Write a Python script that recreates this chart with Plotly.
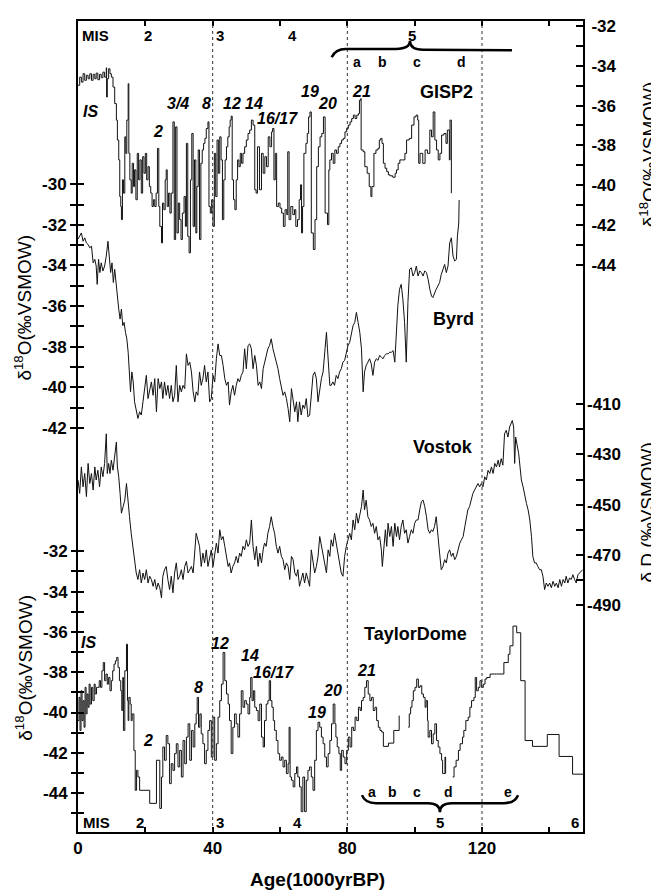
import plotly.graph_objects as go

# ---- data: (age ka BP, value) ----
# GISP2 d18O, permil VSMOW (right upper axis)
gisp2 = [
    (0.0, -34.98), (0.5, -34.57), (1.0, -34.82), (1.5, -34.40), (2.0, -34.73), (2.5, -34.48),
    (3.0, -34.65), (3.5, -34.40), (4.0, -34.73), (4.5, -34.43), (5.0, -34.65), (5.4, -34.37),
    (5.9, -34.70), (6.4, -34.43), (6.9, -34.60), (7.4, -34.32), (7.9, -34.57), (8.4, -34.10),
    (8.5, -35.57), (8.7, -34.65), (9.1, -34.15), (9.5, -34.40), (9.9, -34.57), (10.4, -35.07),
    (10.9, -35.90), (11.4, -36.73), (11.7, -37.73), (12.1, -38.73), (12.4, -40.57), (12.7, -41.07),
    (12.9, -41.73), (13.2, -39.73), (13.5, -40.40), (13.9, -37.57), (14.2, -38.40), (14.5, -36.73),
    (14.9, -34.90), (15.1, -38.40), (15.4, -39.73), (15.8, -40.40), (16.1, -38.90), (16.5, -40.07),
    (16.8, -39.23), (17.2, -40.73), (17.6, -38.40), (18.0, -39.73), (18.4, -38.73), (18.8, -40.40),
    (19.2, -38.57), (19.6, -39.40), (20.0, -38.40), (20.4, -39.73), (20.8, -39.07), (21.2, -40.07),
    (21.6, -40.40), (22.0, -41.07), (22.4, -40.73), (22.8, -41.07), (23.2, -40.40), (23.6, -38.15),
    (24.0, -41.07), (24.3, -42.07), (24.8, -42.90), (25.1, -40.90), (25.5, -41.23), (25.9, -39.73),
    (26.2, -39.23), (26.5, -41.07), (26.9, -40.40), (27.3, -41.40), (27.7, -40.40), (28.2, -36.82),
    (28.6, -42.73), (29.0, -37.07), (29.4, -42.40), (29.8, -40.90), (30.2, -41.73), (30.6, -42.73),
    (31.0, -41.40), (31.5, -40.57), (31.9, -42.07), (32.2, -37.90), (32.6, -42.57), (33.0, -43.40),
    (33.4, -39.73), (33.8, -37.40), (34.2, -42.07), (34.6, -38.73), (35.0, -42.40), (35.3, -40.07),
    (35.7, -38.23), (36.1, -42.73), (36.5, -38.90), (36.9, -38.23), (37.3, -37.90), (37.7, -37.65),
    (38.1, -37.15), (38.6, -36.82), (38.9, -41.07), (39.3, -41.40), (39.7, -40.73), (40.1, -42.07),
    (40.5, -38.40), (40.9, -40.57), (41.3, -37.73), (41.7, -39.40), (42.1, -37.57), (42.5, -38.73),
    (42.9, -41.73), (43.3, -39.73), (43.7, -38.73), (44.1, -38.07), (44.5, -37.57), (44.9, -37.07),
    (45.2, -36.73), (45.5, -36.53), (45.8, -39.73), (46.2, -40.73), (46.6, -41.23), (47.0, -39.73),
    (47.4, -38.73), (47.8, -39.07), (48.2, -38.40), (48.6, -38.90), (49.0, -38.40), (49.5, -38.07),
    (50.0, -37.73), (50.5, -37.40), (51.0, -37.23), (51.5, -36.73), (52.0, -36.98), (52.5, -40.23),
    (52.9, -40.40), (53.3, -38.07), (53.9, -40.23), (54.5, -38.40), (55.0, -39.40), (55.5, -38.57),
    (56.0, -39.07), (56.5, -37.57), (57.0, -38.07), (57.5, -37.32), (57.8, -37.15), (58.2, -39.73),
    (58.6, -38.40), (59.0, -41.07), (59.5, -40.90), (60.0, -41.15), (60.5, -41.40), (61.0, -42.07),
    (61.5, -41.23), (62.0, -41.48), (62.3, -38.32), (62.7, -41.73), (63.2, -41.07), (63.8, -41.48),
    (64.3, -41.23), (64.7, -42.07), (65.2, -41.73), (65.7, -40.73), (66.1, -39.98), (66.4, -42.40),
    (66.7, -41.07), (67.1, -38.40), (67.7, -37.90), (68.1, -37.40), (68.5, -36.57), (68.9, -36.32),
    (69.3, -42.40), (69.9, -43.23), (70.4, -41.73), (70.9, -39.07), (71.4, -38.07), (71.9, -37.57),
    (72.4, -37.40), (72.9, -36.57), (73.4, -41.40), (74.1, -41.98), (74.5, -39.23), (74.8, -38.73),
    (75.3, -38.40), (75.8, -38.90), (76.3, -38.23), (76.8, -38.40), (77.3, -38.07), (77.8, -37.90),
    (78.3, -37.73), (78.8, -37.65), (79.3, -37.32), (79.8, -37.15), (80.3, -36.98), (80.8, -36.82),
    (81.3, -36.65), (81.8, -36.48), (82.3, -36.65), (82.8, -36.48), (83.3, -36.40), (83.6, -35.73),
    (84.0, -35.65), (84.1, -38.23), (84.7, -38.32), (85.2, -39.07), (85.9, -39.40), (86.5, -40.07),
    (87.0, -40.57), (87.3, -40.07), (87.9, -38.40), (88.5, -38.23), (89.1, -38.15), (89.5, -37.73),
    (89.9, -37.65), (90.3, -37.90), (90.7, -38.90), (91.2, -39.15), (91.7, -39.32), (92.2, -39.48),
    (92.7, -39.53), (93.5, -39.60), (94.2, -39.40), (94.6, -39.23), (95.1, -38.90), (95.6, -38.73),
    (96.4, -38.73), (97.1, -38.40), (97.6, -37.73), (98.4, -37.65), (99.1, -36.98), (99.8, -36.57),
    (100.4, -36.48), (100.9, -36.73), (101.2, -38.90), (101.6, -38.40), (102.4, -38.90), (103.1, -38.23),
    (103.8, -38.40), (104.5, -37.23), (105.0, -37.57), (105.5, -36.32), (106.0, -37.73), (106.5, -38.23),
    (107.0, -38.73), (107.5, -38.40), (108.0, -37.48), (108.7, -37.40), (109.3, -37.90), (109.7, -37.23),
    (110.3, -38.73), (110.5, -36.73), (110.9, -40.40),
]

# Byrd d18O, permil VSMOW (left upper axis)
byrd = [
    (0.0, -32.70), (0.5, -32.56), (1.0, -32.40), (1.5, -32.81), (2.0, -32.64), (2.5, -32.89),
    (3.0, -32.97), (3.5, -33.13), (4.0, -33.05), (4.5, -33.87), (5.0, -33.70), (5.4, -34.03),
    (5.7, -34.93), (6.1, -33.70), (6.5, -34.35), (6.9, -33.87), (7.4, -34.27), (7.9, -34.03),
    (8.4, -33.54), (8.9, -32.81), (9.3, -33.54), (9.7, -34.35), (10.1, -33.87), (10.5, -34.84),
    (10.9, -34.19), (11.4, -35.17), (11.7, -35.66), (12.1, -36.15), (12.5, -36.64), (12.9, -36.15),
    (13.3, -36.96), (13.7, -36.80), (14.1, -37.29), (14.5, -37.61), (14.9, -38.27), (15.2, -39.08),
    (15.6, -40.22), (16.0, -39.24), (16.4, -39.73), (16.8, -40.71), (17.3, -41.20), (17.8, -41.53),
    (18.3, -41.20), (18.8, -41.36), (19.3, -40.71), (19.8, -39.90), (20.3, -39.41), (20.8, -40.55),
    (21.3, -40.06), (21.8, -39.73), (22.3, -40.39), (22.8, -39.57), (23.3, -41.20), (23.8, -39.57),
    (24.3, -40.06), (24.8, -39.73), (25.2, -40.55), (25.7, -39.73), (26.2, -40.39), (26.7, -39.90),
    (27.2, -40.55), (27.7, -39.90), (28.2, -40.71), (28.7, -40.39), (29.2, -38.92), (29.7, -40.71),
    (30.2, -39.90), (30.7, -40.22), (31.2, -39.90), (31.7, -40.06), (32.2, -38.35), (32.7, -38.92),
    (33.2, -38.76), (33.7, -39.24), (34.2, -40.22), (34.7, -40.71), (35.1, -40.22), (35.6, -40.39),
    (36.1, -39.24), (36.6, -39.90), (37.1, -39.57), (37.6, -38.92), (38.1, -39.73), (38.6, -39.24),
    (39.1, -40.71), (39.6, -40.55), (40.1, -39.41), (40.6, -39.73), (41.1, -38.59), (41.6, -37.86),
    (42.1, -38.43), (42.6, -38.43), (43.1, -38.92), (43.6, -39.57), (44.1, -39.90), (44.6, -39.73),
    (45.0, -40.87), (45.5, -40.22), (46.0, -39.90), (46.5, -40.39), (47.0, -39.90), (47.5, -39.57),
    (48.0, -39.73), (48.5, -39.41), (49.0, -39.24), (49.5, -38.10), (50.0, -39.08), (50.5, -37.94),
    (51.0, -37.86), (51.5, -38.10), (52.0, -39.08), (52.5, -38.43), (53.0, -38.92), (53.5, -39.90),
    (54.0, -39.73), (54.5, -40.06), (55.0, -39.08), (55.4, -38.76), (55.9, -38.43), (56.4, -38.10),
    (56.9, -37.94), (57.4, -37.61), (57.9, -38.10), (58.4, -38.43), (58.9, -38.76), (59.4, -39.08),
    (59.9, -39.57), (60.4, -40.06), (60.9, -40.39), (61.4, -40.22), (61.9, -40.55), (62.4, -41.04),
    (62.9, -41.69), (63.4, -40.06), (63.9, -40.71), (64.4, -41.20), (64.9, -40.71), (65.3, -41.69),
    (65.8, -40.71), (66.3, -41.36), (66.8, -40.87), (67.3, -41.04), (67.8, -40.55), (68.3, -41.45),
    (68.8, -41.36), (69.3, -40.22), (69.8, -39.41), (70.3, -39.24), (70.8, -39.57), (71.3, -40.71),
    (71.8, -40.06), (72.3, -39.57), (72.8, -39.24), (73.3, -38.27), (73.8, -37.29), (74.1, -38.10),
    (74.5, -39.24), (74.8, -39.90), (75.2, -39.90), (75.7, -39.73), (76.2, -39.90), (76.7, -39.41),
    (77.2, -39.57), (77.7, -39.24), (78.2, -39.08), (78.7, -38.76), (79.2, -38.67), (79.7, -38.27),
    (80.2, -37.94), (80.7, -37.78), (81.2, -37.29), (81.7, -36.96), (82.2, -36.80), (82.7, -36.31),
    (83.2, -36.80), (83.7, -37.29), (84.2, -38.10), (84.7, -40.22), (85.1, -39.24), (85.6, -38.92),
    (86.1, -38.76), (86.6, -38.59), (87.1, -38.84), (87.6, -39.41), (88.1, -38.76), (88.6, -38.59),
    (89.1, -38.67), (89.6, -38.43), (90.1, -38.51), (90.6, -38.59), (91.1, -38.43), (91.6, -38.35),
    (92.1, -38.35), (92.6, -38.27), (93.1, -38.27), (93.6, -38.19), (94.1, -38.76), (94.6, -36.80),
    (95.0, -35.98), (95.5, -35.17), (96.0, -34.93), (96.5, -35.66), (97.0, -36.80), (97.5, -38.76),
    (98.0, -35.82), (98.5, -34.19), (99.0, -34.11), (99.5, -34.52), (100.0, -34.35), (100.5, -34.03),
    (101.0, -34.52), (101.5, -34.27), (102.0, -34.35), (102.5, -34.52), (103.0, -34.27), (103.5, -34.35),
    (104.0, -34.68), (104.5, -35.17), (105.0, -35.50), (105.4, -35.58), (105.9, -35.33), (106.4, -35.17),
    (106.9, -35.01), (107.4, -34.84), (107.9, -34.44), (108.4, -34.19), (108.9, -33.95), (109.4, -34.35),
    (109.9, -34.03), (110.4, -32.89), (110.9, -32.64), (111.4, -33.54), (111.9, -33.78), (112.4, -33.70),
    (112.7, -32.56), (113.1, -31.91), (113.2, -30.78),
]

# Vostok dD, permil VSMOW (right lower axis)
vostok = [
    (0.0, -440.2), (0.5, -445.5), (1.0, -435.0), (1.5, -442.9), (2.0, -437.6), (2.5, -446.8),
    (3.0, -433.6), (3.5, -441.6), (4.0, -437.6), (4.5, -444.2), (5.0, -435.0), (5.4, -440.2),
    (5.9, -436.3), (6.4, -442.9), (6.9, -435.0), (7.4, -438.9), (7.9, -433.6), (8.4, -421.8),
    (8.7, -437.6), (9.1, -433.6), (9.5, -437.6), (9.9, -432.3), (10.4, -436.3), (10.9, -431.0),
    (11.4, -425.1), (11.7, -435.0), (12.1, -438.9), (12.5, -445.5), (12.9, -453.4), (13.4, -450.8),
    (13.9, -448.2), (14.4, -441.6), (14.9, -450.8), (15.3, -454.8), (15.8, -461.4), (16.3, -466.6),
    (16.8, -473.2), (17.3, -477.2), (17.8, -479.8), (18.3, -475.9), (18.8, -481.2), (19.3, -477.2),
    (19.8, -479.8), (20.3, -475.9), (20.8, -481.2), (21.3, -478.5), (21.8, -479.8), (22.3, -482.5),
    (22.8, -479.8), (23.3, -483.8), (23.8, -481.2), (24.3, -483.1), (24.8, -487.1), (25.2, -478.5),
    (25.7, -475.9), (26.2, -474.6), (26.7, -479.8), (27.2, -483.8), (27.7, -478.5), (28.2, -485.1),
    (28.7, -477.2), (29.2, -473.2), (29.7, -479.8), (30.2, -478.5), (30.7, -475.9), (31.2, -479.8),
    (31.7, -474.6), (32.2, -472.6), (32.7, -477.2), (33.2, -475.9), (33.7, -474.6), (34.2, -477.2),
    (34.7, -468.0), (35.1, -461.4), (35.6, -464.0), (36.1, -466.6), (36.6, -474.6), (37.1, -469.3),
    (37.6, -473.2), (38.1, -468.0), (38.6, -474.6), (39.1, -471.9), (39.6, -468.0), (40.1, -474.6),
    (40.6, -469.3), (41.1, -465.3), (41.6, -469.3), (42.1, -460.0), (42.6, -464.0), (43.1, -462.7),
    (43.6, -466.6), (44.1, -470.6), (44.6, -474.6), (45.0, -473.2), (45.5, -477.2), (46.0, -474.6),
    (46.5, -473.2), (47.0, -470.6), (47.5, -473.2), (48.0, -469.3), (48.5, -470.6), (49.0, -466.6),
    (49.5, -468.0), (50.0, -464.0), (50.5, -466.6), (51.0, -465.3), (51.5, -456.1), (52.0, -466.6),
    (52.5, -471.9), (53.0, -466.6), (53.5, -474.6), (54.0, -469.3), (54.5, -473.2), (55.0, -468.0),
    (55.4, -465.3), (55.9, -466.6), (56.4, -461.4), (56.9, -458.7), (57.4, -454.8), (57.9, -458.7),
    (58.4, -461.4), (58.9, -466.6), (59.4, -469.3), (59.9, -466.6), (60.4, -470.6), (60.9, -471.9),
    (61.4, -475.9), (61.9, -473.2), (62.4, -474.6), (62.9, -479.8), (63.4, -470.6), (63.9, -471.9),
    (64.4, -477.2), (64.9, -478.5), (65.3, -475.9), (65.8, -482.5), (66.3, -479.8), (66.8, -477.2),
    (67.3, -481.2), (67.8, -477.2), (68.3, -479.8), (68.8, -482.5), (69.3, -468.0), (69.8, -473.2),
    (70.3, -477.2), (70.8, -474.6), (71.3, -470.6), (71.8, -462.7), (72.3, -466.6), (72.8, -469.3),
    (73.3, -473.2), (73.8, -477.2), (74.3, -468.0), (74.8, -470.6), (75.2, -464.0), (75.7, -466.6),
    (76.2, -461.4), (76.7, -465.3), (77.2, -470.6), (77.7, -473.2), (78.2, -477.2), (78.7, -478.5),
    (79.2, -470.6), (79.7, -466.6), (80.2, -464.0), (80.7, -461.4), (81.2, -464.0), (81.7, -456.1),
    (82.2, -460.0), (82.7, -453.4), (83.2, -457.4), (83.7, -453.4), (84.2, -450.8), (84.7, -444.2),
    (85.1, -452.1), (85.6, -448.2), (86.1, -454.8), (86.6, -456.1), (87.1, -458.7), (87.6, -457.4),
    (88.1, -461.4), (88.6, -458.7), (89.1, -464.0), (89.6, -462.7), (90.1, -468.0), (90.4, -474.6),
    (90.9, -464.0), (91.3, -460.0), (91.7, -466.6), (92.1, -457.4), (92.6, -462.7), (93.1, -458.7),
    (93.6, -466.6), (94.1, -457.4), (94.6, -462.7), (95.0, -458.7), (95.5, -464.0), (96.0, -458.7),
    (96.5, -456.1), (97.0, -461.4), (97.5, -460.0), (98.0, -465.3), (98.5, -462.7), (99.0, -460.0),
    (99.5, -461.4), (100.0, -457.4), (100.5, -456.1), (101.0, -456.1), (101.5, -452.1), (102.0, -448.8),
    (102.5, -448.2), (103.0, -450.8), (103.5, -454.8), (104.0, -460.0), (104.5, -461.4), (105.0, -460.0),
    (105.4, -460.7), (105.9, -458.7), (106.4, -454.8), (106.9, -464.0), (107.4, -469.3), (107.9, -475.9),
    (108.4, -474.6), (108.9, -471.9), (109.4, -473.2), (109.9, -469.3), (110.4, -468.0), (110.9, -470.6),
    (111.4, -469.3), (111.9, -471.9), (112.4, -470.6), (112.9, -468.0), (113.4, -465.3), (113.9, -464.0),
    (114.4, -462.7), (114.9, -458.7), (115.3, -454.8), (115.8, -452.1), (116.3, -450.8), (116.8, -448.2),
    (117.3, -445.5), (117.8, -444.2), (118.3, -442.9), (118.8, -441.6), (119.3, -442.9), (119.8, -441.6),
    (120.3, -442.9), (120.8, -438.9), (121.3, -440.2), (121.8, -436.3), (122.3, -437.6), (122.8, -435.0),
    (123.3, -437.6), (123.8, -433.6), (124.3, -435.0), (124.8, -432.3), (125.2, -435.0), (125.7, -431.7),
    (126.2, -434.3), (126.7, -421.8), (127.2, -420.4), (127.7, -423.1), (128.2, -419.1), (128.7, -417.8),
    (129.0, -416.5), (129.4, -419.1), (129.7, -433.6), (130.0, -423.1), (130.5, -427.0), (130.9, -429.7),
    (131.3, -435.0), (131.7, -440.2), (132.2, -442.9), (132.7, -446.8), (133.2, -449.5), (133.7, -452.1),
    (134.2, -456.1), (134.7, -462.7), (135.1, -470.6), (135.6, -473.2), (136.1, -473.2), (136.6, -474.6),
    (137.1, -475.9), (137.6, -475.9), (138.1, -478.5), (138.6, -483.8), (139.1, -481.2), (139.6, -482.5),
    (140.1, -481.2), (140.6, -483.1), (141.1, -480.5), (141.6, -482.5), (142.1, -481.2), (142.6, -483.1),
    (143.1, -479.8), (143.6, -482.5), (144.1, -479.8), (144.6, -481.2), (145.0, -478.5), (145.5, -481.2),
    (146.0, -479.2), (146.5, -479.8), (147.0, -477.9), (147.5, -479.8), (148.0, -481.2), (148.5, -477.9),
    (149.0, -477.2), (149.5, -476.5), (149.9, -475.9),
]

# Taylor Dome d18O, permil VSMOW (left lower axis); None = gap in record
taylor = [
    (0.0, -40.40), (0.3, -39.25), (0.6, -40.89), (0.9, -38.92), (1.2, -40.40), (1.5, -39.41),
    (1.8, -40.73), (2.1, -38.75), (2.4, -40.07), (2.7, -39.08), (3.0, -39.74), (3.3, -38.59),
    (3.6, -39.58), (4.0, -38.75), (4.4, -39.41), (4.8, -38.59), (5.1, -39.08), (5.5, -38.75),
    (5.9, -38.75), (6.3, -38.42), (6.7, -38.75), (7.1, -37.93), (7.5, -37.52), (7.9, -38.42),
    (8.3, -38.09), (8.7, -38.59), (9.1, -38.26), (9.5, -38.92), (9.9, -38.42), (10.3, -37.93),
    (10.7, -37.60), (11.1, -37.44), (11.5, -37.27), (11.9, -37.76), (12.3, -38.42), (12.7, -38.92),
    (13.0, -39.90), (13.3, -38.26), (13.5, -40.89), (13.9, -37.93), (14.4, -36.61), (14.7, -39.41),
    (14.9, -40.40), (15.1, -39.25), (15.5, -39.58), (15.8, -40.40), (16.1, -40.07), (16.6, -41.88),
    (17.0, -43.86), (17.4, -42.87), (17.8, -43.20), (18.3, -43.86), (21.3, -44.51), (23.3, -42.37),
    (24.3, -44.76), (24.8, -43.20), (25.2, -41.71), (25.7, -42.37), (26.2, -41.14), (26.7, -41.55),
    (27.2, -43.53), (27.7, -42.54), (28.2, -42.87), (28.7, -42.04), (29.2, -41.55), (29.7, -42.70),
    (30.2, -41.88), (30.7, -43.20), (31.2, -41.39), (31.7, -42.54), (32.2, -41.22), (32.7, -40.56),
    (33.2, -42.37), (33.7, -40.89), (34.2, -41.71), (34.7, -40.56), (35.1, -40.07), (35.4, -39.25),
    (35.8, -40.73), (36.2, -40.07), (36.6, -41.06), (37.1, -41.55), (37.6, -42.54), (38.1, -41.88),
    (38.6, -40.89), (39.1, -40.40), (39.6, -42.21), (40.1, -40.23), (40.6, -42.37), (41.1, -41.55),
    (41.6, -40.23), (42.1, -39.41), (42.6, -38.59), (43.1, -37.02), (43.6, -38.42), (44.1, -39.08),
    (44.6, -39.58), (45.0, -40.40), (45.5, -42.04), (46.0, -40.73), (46.5, -40.07), (47.0, -40.56),
    (47.5, -41.22), (48.0, -40.07), (48.5, -38.92), (49.0, -39.74), (49.5, -39.41), (50.0, -39.58),
    (50.5, -40.07), (51.0, -39.25), (51.3, -38.26), (51.7, -39.41), (52.1, -38.92), (52.5, -39.74),
    (53.0, -39.90), (53.5, -40.40), (54.0, -39.58), (54.5, -41.22), (55.0, -41.71), (55.4, -40.40),
    (55.9, -39.58), (56.4, -39.41), (56.8, -38.42), (57.2, -39.41), (57.6, -39.74), (58.0, -40.40),
    (58.4, -40.89), (58.9, -41.39), (59.4, -42.04), (59.9, -42.37), (60.4, -42.21), (60.9, -42.70),
    (61.4, -42.37), (61.9, -43.03), (62.4, -42.54), (62.7, -40.73), (63.0, -43.20), (63.4, -43.36),
    (63.9, -43.69), (64.4, -43.03), (64.9, -42.70), (65.3, -43.20), (65.8, -43.69), (66.3, -44.92),
    (66.8, -43.20), (67.3, -44.92), (67.8, -43.36), (68.3, -42.87), (68.8, -42.70), (69.3, -43.20),
    (69.8, -43.86), (70.3, -42.37), (70.8, -40.89), (71.3, -40.48), (71.8, -40.73), (72.3, -41.22),
    (72.8, -41.55), (73.3, -42.21), (73.8, -42.70), (74.3, -42.04), (74.8, -41.39), (75.3, -40.56),
    (75.8, -39.58), (76.3, -40.56), (76.6, -41.22), (77.0, -41.71), (77.5, -42.04), (77.9, -42.87),
    (78.3, -41.88), (78.8, -42.21), (79.3, -42.54), (79.8, -41.88), (80.3, -41.22), (80.8, -41.71),
    (81.3, -40.73), (81.8, -40.89), (82.3, -40.23), (82.8, -40.40), (83.3, -39.74), (83.8, -39.90),
    (84.2, -39.41), (84.7, -39.25), (85.2, -38.75), (85.7, -38.42), (86.2, -39.08), (86.7, -39.41),
    (87.2, -39.25), (87.7, -39.90), (88.2, -39.74), (88.7, -40.40), (89.2, -40.73), (89.7, -40.89),
    (90.2, -40.97), (90.7, -41.68), (92.2, -41.52), (93.8, -40.89), (95.4, -40.15), (95.5, None),
    (98.1, -40.73), (98.4, -40.07), (98.8, -39.74), (99.2, -39.41), (99.6, -38.92), (100.1, -38.75),
    (100.6, -38.34), (101.1, -38.75), (101.6, -38.67), (102.1, -39.08), (102.6, -39.25), (103.1, -39.74),
    (103.4, -39.41), (103.8, -40.40), (104.0, -41.22), (104.5, -40.89), (105.0, -41.55), (105.5, -41.06),
    (106.0, -40.56), (106.5, -41.39), (107.0, -41.71), (107.5, -42.04), (108.0, -42.37), (108.3, -43.03),
    (108.7, -43.03), (109.0, -42.21), (109.2, -43.03), (109.3, None),
    (111.3, -43.20), (111.7, -42.70), (112.3, -42.37), (113.0, -41.88), (113.5, -41.55), (114.2, -41.22),
    (114.6, -40.89), (115.2, -40.40), (115.9, -40.23), (116.4, -39.74), (116.9, -39.41), (117.6, -39.25),
    (118.0, -38.26), (118.4, -38.92), (118.9, -38.75), (119.4, -38.42), (119.9, -38.75), (120.4, -38.59),
    (120.9, -38.34), (121.4, -38.26), (122.4, -38.09), (124.3, -38.09), (126.5, -37.52), (127.8, -37.11),
    (128.3, -36.69), (129.2, -35.71), (130.3, -36.04), (131.5, -38.42), (132.8, -41.39), (135.0, -41.68),
    (139.4, -41.09), (142.9, -42.18), (146.9, -43.06), (150.0, -43.06),
]

x_ticks = [0, 20, 40, 60, 80, 100, 120, 140]
x_labels = ['0', '', '40', '', '80', '', '120', '']
byrd_ticks = list(range(-30, -43, -1))
gisp2_ticks = list(range(-32, -45, -1))
taylor_ticks = list(range(-32, -46, -1))
vostok_ticks = list(range(-410, -491, -10))

FONT = 'Liberation Sans'


def cols(pairs):
    return [p[0] for p in pairs], [p[1] for p in pairs]


fig = go.Figure()
line = dict(color='#111111', width=1)

x, y = cols(gisp2)
fig.add_trace(go.Scatter(x=x, y=y, mode='lines', line=dict(**line, shape='hv'), yaxis='y2', name='GISP2'))
x, y = cols(byrd)
fig.add_trace(go.Scatter(x=x, y=y, mode='lines', line=line, yaxis='y', name='Byrd'))
x, y = cols(vostok)
fig.add_trace(go.Scatter(x=x, y=y, mode='lines', line=line, yaxis='y3', name='Vostok'))
x, y = cols(taylor)
fig.add_trace(go.Scatter(x=x, y=y, mode='lines', line=dict(**line, shape='hv'), yaxis='y4',
                         name='TaylorDome', connectgaps=False))
# empty traces so the inner-tick copies of the left axes get drawn
fig.add_trace(go.Scatter(x=[0], y=[None], mode='lines', yaxis='y5', hoverinfo='skip'))
fig.add_trace(go.Scatter(x=[0], y=[None], mode='lines', yaxis='y6', hoverinfo='skip'))


def even_labels(vals, step=2):
    return [str(v) if v % step == 0 else '' for v in vals]


tickfont = dict(family=FONT, size=17, color='black', weight='bold')
common = dict(showgrid=False, zeroline=False, tickmode='array', tickcolor='black', tickwidth=1.5,
              tickfont=tickfont)

# the page body has an 8px margin; size the figure so it fits the 659x890 window exactly
fig.update_layout(
    width=651, height=882,
    margin=dict(l=70, r=76, t=9, b=58),
    plot_bgcolor='white', paper_bgcolor='white',
    showlegend=False,
    xaxis=dict(range=[0, 150], tickvals=x_ticks, ticktext=x_labels, ticks='inside', ticklen=5,
               showline=True, linewidth=2, linecolor='black', mirror='ticks', **common),
    yaxis=dict(range=[-61.88, -21.97], tickvals=byrd_ticks, ticktext=even_labels(byrd_ticks),
               ticks='outside', ticklen=6, showline=True, linewidth=2, linecolor='black', **common),
    yaxis2=dict(overlaying='y', side='right', range=[-72.5, -31.75], tickvals=gisp2_ticks,
                ticktext=even_labels(gisp2_ticks), ticks='inside', ticklen=7, ticklabelstandoff=3,
                showline=True, linewidth=2, linecolor='black', **common),
    yaxis3=dict(overlaying='y', side='right', range=[-580.3, -257.5], tickvals=vostok_ticks,
                ticktext=[str(v) if (v + 410) % 20 == 0 else '' for v in vostok_ticks],
                ticks='inside', ticklen=7, ticklabelstandoff=3, showline=False, **common),
    yaxis4=dict(overlaying='y', side='left', range=[-45.93, -5.68], tickvals=taylor_ticks,
                ticktext=even_labels(taylor_ticks), ticks='outside', ticklen=6, showline=False, **common),
    yaxis5=dict(overlaying='y', side='left', range=[-61.88, -21.97], tickvals=byrd_ticks,
                showticklabels=False, ticks='inside', ticklen=6, showline=False, **common),
    yaxis6=dict(overlaying='y', side='left', range=[-45.93, -5.68], tickvals=taylor_ticks,
                showticklabels=False, ticks='inside', ticklen=6, showline=False, **common),
)

# vertical dashed MIS boundaries
for xv in [40, 80, 120]:
    fig.add_shape(type='line', x0=xv, x1=xv, y0=0, y1=1, xref='x', yref='paper',
                  line=dict(color='#333333', width=1, dash='3px,3px'))

# braces grouping MIS 5 substages
fig.add_shape(type='path', xref='x', yref='paper',
              path='M 75.35,0.9554 Q 76.5,0.9656 79.5,0.9656 L 94.5,0.9656 Q 98.6,0.9656 98.6,0.9755 '
                   'Q 98.6,0.9645 102.5,0.9645 L 128.9,0.9640',
              line=dict(color='black', width=2.5))
fig.add_shape(type='path', xref='x', yref='paper',
              path='M 84.35,0.0454 Q 85.2,0.0356 88.5,0.0356 L 104,0.0356 Q 107.5,0.0356 107.5,0.0245 '
                   'Q 107.5,0.0356 111,0.0356 L 126.5,0.0356 Q 129.8,0.0356 130.7,0.0454',
              line=dict(color='black', width=2.5))


def txt(x, y, text, size=16, xref='x', angle=0):
    fig.add_annotation(x=x, y=y, xref=xref, yref='paper', text=text, showarrow=False,
                       textangle=angle, xanchor='center', yanchor='middle',
                       font=dict(family=FONT, size=size, color='black'))


# marine isotope stages, top and bottom
for xv, t in [(5.3, 'MIS'), (20.8, '2'), (42.2, '3'), (63.6, '4'), (99.2, '5')]:
    txt(xv, 0.9816, f'<b>{t}</b>', 15)
for xv, t in [(5.6, 'MIS'), (18.4, '2'), (42.2, '3'), (65.3, '4'), (107.5, '5'), (147.6, '6')]:
    txt(xv, 0.0115, f'<b>{t}</b>', 15)
for xv, t in [(82.9, 'a'), (90.3, 'b'), (100.7, 'c'), (113.8, 'd')]:
    txt(xv, 0.9497, f'<b>{t}</b>', 14)
for xv, t in [(87.2, 'a'), (93.5, 'b'), (100.6, 'c'), (110.0, 'd'), (127.8, 'e')]:
    txt(xv, 0.0495, f'<b>{t}</b>', 14)

# interstadial numbers
for xv, yv, t in [(3.6, 0.888, 'IS'), (23.8, 0.8638, '2'), (29.7, 0.898, '3/4'), (38.3, 0.898, '8'),
                  (45.7, 0.898, '12'), (52.3, 0.898, '14'), (59.3, 0.880, '16/17'), (68.9, 0.913, '19'),
                  (74.0, 0.898, '20'), (84.1, 0.913, '21'),
                  (3.0, 0.2331, 'IS'), (20.8, 0.1129, '2'), (35.7, 0.1779, '8'), (42.2, 0.2319, '12'),
                  (51.1, 0.2172, '14'), (58.0, 0.1963, '16/17'), (71.0, 0.1472, '19'), (75.6, 0.1742, '20'),
                  (85.8, 0.1988, '21')]:
    txt(xv, yv, f'<b><i>{t}</i></b>', 16)

# record names
for xv, yv, t in [(109.6, 0.913, 'GISP2'), (111.4, 0.632, 'Byrd'), (108.4, 0.4748, 'Vostok'),
                  (100.1, 0.2442, 'TaylorDome')]:
    txt(xv, yv, f'<b>{t}</b>', 18)

# axis titles
d18 = 'δ<sup>18</sup>O(‰VSMOW)'
txt(-0.1089, 0.6466, d18, 19, xref='paper', angle=-90)
txt(-0.107, 0.2025, d18, 19, xref='paper', angle=-90)
txt(1.1287, 0.8356, d18, 19, xref='paper', angle=-90)
txt(1.1287, 0.3939, 'δ D (‰VSMOW)', 19, xref='paper', angle=-90)
txt(71.1, -0.059, '<b>Age(1000yrBP)</b>', 19)

fig.write_html('out.html')
